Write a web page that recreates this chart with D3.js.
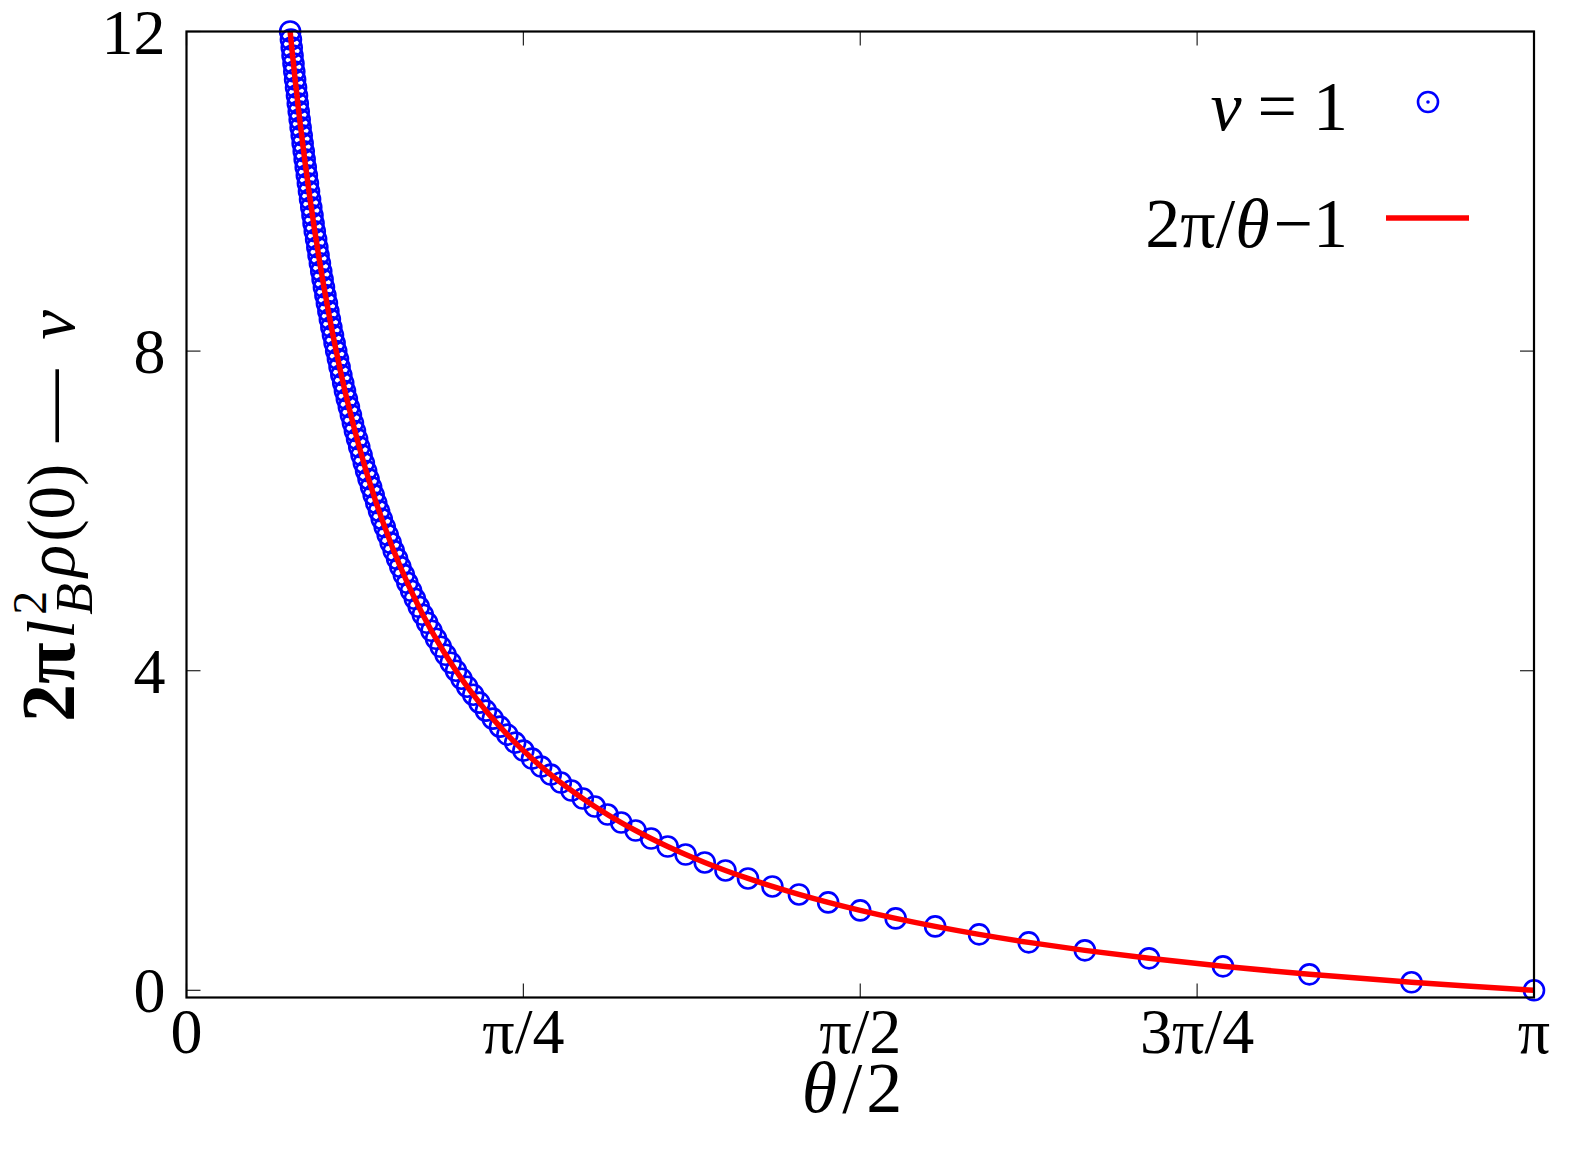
<!DOCTYPE html>
<html>
<head>
<meta charset="utf-8">
<script src="https://cdn.jsdelivr.net/npm/d3@7"></script>
<style>
  body { margin: 0; background: #fff; }
  text { font-family: "Liberation Serif", "Times New Roman", serif; fill: #000; }
</style>
</head>
<body>
<div id="chart"></div>
<script>
// theta/2 of each point, in units of pi
const thetaHalf = [
  1, 0.9091, 0.8333, 0.7692, 0.7143, 0.6667, 0.6250, 0.5882, 0.5556, 0.5263,
  0.5, 0.4762, 0.4545, 0.4348, 0.4167, 0.4, 0.3846, 0.3704, 0.3571, 0.3448,
  0.3333, 0.3226, 0.3125, 0.3030, 0.2941, 0.2857, 0.2778, 0.2703, 0.2632, 0.2564,
  0.25, 0.2439, 0.2381, 0.2326, 0.2273, 0.2222, 0.2174, 0.2128, 0.2083, 0.2041,
  0.2, 0.1961, 0.1923, 0.1887, 0.1852, 0.1818, 0.1786, 0.1754, 0.1724, 0.1695,
  0.1667, 0.1639, 0.1613, 0.1587, 0.1563, 0.1538, 0.1515, 0.1493, 0.1471, 0.1449,
  0.1429, 0.1408, 0.1389, 0.1370, 0.1351, 0.1333, 0.1316, 0.1299, 0.1282, 0.1266,
  0.125, 0.1235, 0.1220, 0.1205, 0.1190, 0.1176, 0.1163, 0.1149, 0.1136, 0.1124,
  0.1111, 0.1099, 0.1087, 0.1075, 0.1064, 0.1053, 0.1042, 0.1031, 0.1020, 0.1010,
  0.1, 0.0990, 0.0980, 0.0971, 0.0962, 0.0952, 0.0943, 0.0935, 0.0926, 0.0917,
  0.0909, 0.0901, 0.0893, 0.0885, 0.0877, 0.0870, 0.0862, 0.0855, 0.0847, 0.0840,
  0.0833, 0.0826, 0.0820, 0.0813, 0.0806, 0.0800, 0.0794, 0.0787, 0.0781, 0.0775,
  0.0769
];
// 2*pi*lB^2*rho(0) - nu for nu = 1
const densityVals = [
  0, 0.1, 0.2, 0.3, 0.4, 0.5, 0.6, 0.7, 0.8, 0.9,
  1.0, 1.1, 1.2, 1.3, 1.4, 1.5, 1.6, 1.7, 1.8, 1.9,
  2.0, 2.1, 2.2, 2.3, 2.4, 2.5, 2.6, 2.7, 2.8, 2.9,
  3.0, 3.1, 3.2, 3.3, 3.4, 3.5, 3.6, 3.7, 3.8, 3.9,
  4.0, 4.1, 4.2, 4.3, 4.4, 4.5, 4.6, 4.7, 4.8, 4.9,
  5.0, 5.1, 5.2, 5.3, 5.4, 5.5, 5.6, 5.7, 5.8, 5.9,
  6.0, 6.1, 6.2, 6.3, 6.4, 6.5, 6.6, 6.7, 6.8, 6.9,
  7.0, 7.1, 7.2, 7.3, 7.4, 7.5, 7.6, 7.7, 7.8, 7.9,
  8.0, 8.1, 8.2, 8.3, 8.4, 8.5, 8.6, 8.7, 8.8, 8.9,
  9.0, 9.1, 9.2, 9.3, 9.4, 9.5, 9.6, 9.7, 9.8, 9.9,
  10.0, 10.1, 10.2, 10.3, 10.4, 10.5, 10.6, 10.7, 10.8, 10.9,
  11.0, 11.1, 11.2, 11.3, 11.4, 11.5, 11.6, 11.7, 11.8, 11.9,
  12.0
];
// the theory curve 2pi/theta - 1, sampled at the same theta/2 values
const curveX = thetaHalf;
const curveY = densityVals;

const xTicks = [0, 0.25, 0.5, 0.75, 1];
const xTickLabels = ["0", "π/4", "π/2", "3π/4", "π"];
const yTicks = [0, 4, 8, 12];

const W = 1591, H = 1156;
const margin = { top: 31.5, right: 57, bottom: 158.5, left: 186.5 };
const width = W - margin.left - margin.right,
      height = H - margin.top - margin.bottom;

const svg = d3.select("#chart").append("svg")
    .attr("width", W)
    .attr("height", H);

const g = svg.append("g")
    .attr("transform", "translate(" + margin.left + "," + margin.top + ")");

const x = d3.scaleLinear().domain([0, Math.PI]).range([0, width]);
const y = d3.scaleLinear().domain([-0.09, 12]).range([height, 0]);

const pts = thetaHalf.map((t, i) => [t * Math.PI, densityVals[i]]);
const linePts = curveX.map((t, i) => [t * Math.PI, curveY[i]]);

// ticks (mirrored on all four sides, pointing inward)
const tickLen = 14;
const ticks = g.append("g").attr("stroke", "#222").attr("stroke-width", 1.2);
xTicks.forEach(t => {
  const px = x(t * Math.PI);
  ticks.append("line").attr("x1", px).attr("x2", px).attr("y1", height).attr("y2", height - tickLen);
  ticks.append("line").attr("x1", px).attr("x2", px).attr("y1", 0).attr("y2", tickLen);
});
yTicks.forEach(v => {
  const py = y(v);
  ticks.append("line").attr("x1", 0).attr("x2", tickLen).attr("y1", py).attr("y2", py);
  ticks.append("line").attr("x1", width).attr("x2", width - tickLen).attr("y1", py).attr("y2", py);
});

// tick labels
g.selectAll(".xlab").data(xTicks).enter().append("text")
    .attr("class", "xlab")
    .attr("x", d => x(d * Math.PI))
    .attr("y", height + 55)
    .attr("text-anchor", "middle")
    .style("font-size", "64px")
    .text((d, i) => xTickLabels[i]);

g.selectAll(".ylab").data(yTicks).enter().append("text")
    .attr("class", "ylab")
    .attr("x", -21)
    .attr("y", d => y(d) + 22)
    .attr("text-anchor", "end")
    .style("font-size", "64px")
    .text(d => d);

// data markers
g.selectAll(".pt").data(pts).enter().append("circle")
    .attr("class", "pt")
    .attr("cx", d => x(d[0]))
    .attr("cy", d => y(d[1]))
    .attr("r", 10)
    .attr("fill", "none")
    .attr("stroke", "#0000ff")
    .attr("stroke-width", 2.6);

// theory curve
const line = d3.line()
    .x(d => x(d[0]))
    .y(d => y(d[1]))
    .curve(d3.curveCatmullRom);

g.append("path")
    .datum(linePts)
    .attr("d", line)
    .attr("fill", "none")
    .attr("stroke", "#ff0000")
    .attr("stroke-width", 5.5);

// frame
g.append("rect")
    .attr("width", width)
    .attr("height", height)
    .attr("fill", "none")
    .attr("stroke", "#000")
    .attr("stroke-width", 2.2);

// axis labels
const xl = svg.append("text")
    .attr("x", 852)
    .attr("y", 1112)
    .attr("text-anchor", "middle")
    .style("font-size", "72px");
xl.append("tspan").style("font-style", "italic").text("θ");
xl.append("tspan").attr("dx", 5).text("/");
xl.append("tspan").attr("dx", 4).text("2");

const yl = svg.append("text")
    .attr("transform", "translate(74,516) rotate(-90)")
    .attr("text-anchor", "middle")
    .style("font-size", "67px");
yl.append("tspan").style("font-weight", "bold").style("font-size", "76px").text("2π");
yl.append("tspan").attr("dx", 4).style("font-style", "italic").text("l");
yl.append("tspan").attr("dx", 5).attr("dy", -28).style("font-size", "48px").text("2");
yl.append("tspan").attr("dx", -24).attr("dy", 46).style("font-size", "52px").style("font-style", "italic").text("B");
yl.append("tspan").attr("dx", 6).attr("dy", -18).style("font-style", "italic").text("ρ");
yl.append("tspan").attr("dx", 3).text("(0)");
yl.append("tspan").attr("dx", 22).style("font-size", "72px").text("—");
yl.append("tspan").attr("dx", 30).style("font-style", "italic").text("ν");

// legend
const leg = svg.append("g");
const l1 = leg.append("text").attr("x", 1348).attr("y", 130)
    .attr("text-anchor", "end").style("font-size", "70px");
l1.append("tspan").style("font-style", "italic").text("ν");
l1.append("tspan").attr("dx", 16).text("=");
l1.append("tspan").attr("dx", 16).text("1");
leg.append("circle").attr("cx", 1428).attr("cy", 102).attr("r", 10)
    .attr("fill", "none").attr("stroke", "#0000ff").attr("stroke-width", 2.6);
leg.append("circle").attr("cx", 1428).attr("cy", 102).attr("r", 1.8)
    .attr("fill", "#0000ff");

const l2 = leg.append("text").attr("x", 1348).attr("y", 247)
    .attr("text-anchor", "end").style("font-size", "70px");
l2.append("tspan").text("2π/");
l2.append("tspan").style("font-style", "italic").text("θ");
l2.append("tspan").attr("dx", 4).text("−1");
leg.append("line").attr("x1", 1386).attr("x2", 1469).attr("y1", 218).attr("y2", 218)
    .attr("stroke", "#ff0000").attr("stroke-width", 5.5);
</script>
</body>
</html>
